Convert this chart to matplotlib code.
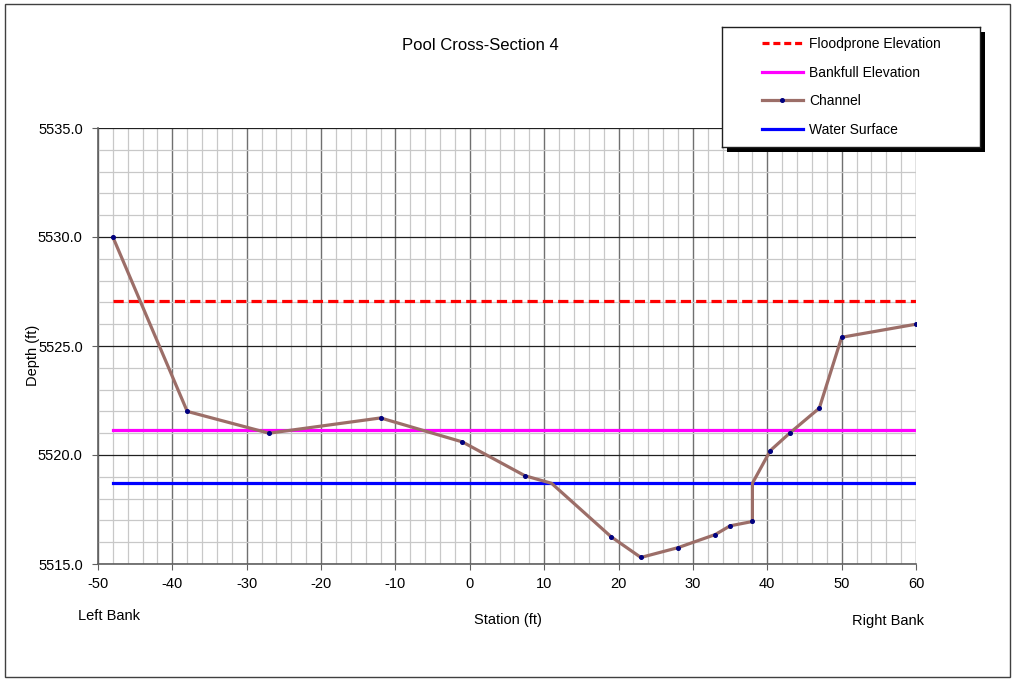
import matplotlib
matplotlib.use("Agg")
import matplotlib.pyplot as plt
from matplotlib.lines import Line2D
from matplotlib.patches import Rectangle
from matplotlib.ticker import MultipleLocator, FormatStrFormatter

plt.rcParams['font.family'] = ['Liberation Sans', 'DejaVu Sans']
plt.rcParams['axes.unicode_minus'] = False

# Surveyed channel profile
station = [-48, -38, -27, -12, -1, 7.4, 11, 19, 23, 28, 33, 35, 38, 38, 40.4, 43, 47, 50, 60]
elevation = [5530.0, 5522.0, 5521.0, 5521.7, 5520.6, 5519.05, 5518.7, 5516.25, 5515.3,
             5515.75, 5516.35, 5516.75, 5516.95, 5518.7, 5520.2, 5521.0, 5522.15, 5525.4, 5526.0]
marker_flags = [True] * len(station)
marker_flags[6] = False
marker_flags[13] = False

# Reference elevations across the section
extent = [-48, 60]
floodprone = 5527.05
bankfull = 5521.15
water_surface = 5518.7

W, H = 1015, 681
fig = plt.figure(figsize=(W / 100, H / 100), dpi=100)
fig.patch.set_facecolor('white')

# outer chart border
fig.add_artist(Rectangle((5 / W, 4 / H), 1005 / W, 673 / H, transform=fig.transFigure,
                         fill=False, edgecolor='#404040', linewidth=1.0))

ax = fig.add_axes([98 / W, 1 - 564 / H, 818 / W, 436 / H])
ax.set_xlim(-50, 60)
ax.set_ylim(5515, 5535)

ax.xaxis.set_major_locator(MultipleLocator(10))
ax.xaxis.set_minor_locator(MultipleLocator(2))
ax.yaxis.set_major_locator(MultipleLocator(5))
ax.yaxis.set_minor_locator(MultipleLocator(1))
ax.yaxis.set_major_formatter(FormatStrFormatter('%.1f'))

ax.grid(which='minor', color='#c8c8c8', linewidth=0.9)
ax.xaxis.grid(which='major', color='#707070', linewidth=1.0)
ax.yaxis.grid(which='major', color='#202020', linewidth=0.9)
ax.set_axisbelow(True)
for s in ['top', 'right']:
    ax.spines[s].set_visible(False)
for s in ['left', 'bottom']:
    ax.spines[s].set_color('#606060')
    ax.spines[s].set_linewidth(1.2)
ax.tick_params(which='major', length=4, color='#606060', labelsize=10.5, direction='out')
ax.tick_params(axis='y', pad=7)
ax.tick_params(axis='x', pad=5)
ax.tick_params(which='minor', length=0)

fp_line, = ax.plot(extent, [floodprone, floodprone], color='#ff0000', linewidth=2.3,
                   dashes=(3.2, 1.6))
bf_line, = ax.plot(extent, [bankfull, bankfull], color='#ff00ff', linewidth=2.3)
ch_line, = ax.plot(station, elevation, color='#9c6e68', linewidth=2.3, zorder=4)
ws_line, = ax.plot(extent, [water_surface, water_surface], color='#0000ff', linewidth=2.3, zorder=3)
mx = [s for s, f in zip(station, marker_flags) if f]
my = [e for e, f in zip(elevation, marker_flags) if f]
ax.plot(mx, my, linestyle='none', marker='o', markersize=2.6, color='#000080', zorder=5)

fig.text(480 / W, 1 - 45 / H, 'Pool Cross-Section 4', ha='center', va='center', fontsize=12)
fig.text(33 / W, 1 - 355 / H, 'Depth (ft)', ha='center', va='center', rotation=90, fontsize=10.5)
fig.text(109 / W, 1 - 616 / H, 'Left Bank', ha='center', va='center', fontsize=10.5)
fig.text(508 / W, 1 - 620 / H, 'Station (ft)', ha='center', va='center', fontsize=10.5)
fig.text(888 / W, 1 - 621 / H, 'Right Bank', ha='center', va='center', fontsize=10.5)

# legend box with drop shadow
lx, ly, lw, lh = 722, 27, 258, 120
fig.add_artist(Rectangle(((lx + 5) / W, 1 - (ly + lh + 5) / H), lw / W, lh / H,
                         transform=fig.transFigure, facecolor='black', edgecolor='none', zorder=8))
lax = fig.add_axes([lx / W, 1 - (ly + lh) / H, lw / W, lh / H], zorder=9)
lax.set_xticks([])
lax.set_yticks([])
for s in lax.spines.values():
    s.set_color('#202020')
    s.set_linewidth(1.0)
handles = [
    Line2D([], [], color='#ff0000', linewidth=2.3, dashes=(2.2, 1.2)),
    Line2D([], [], color='#ff00ff', linewidth=2.3),
    Line2D([], [], color='#9c6e68', linewidth=2.3, marker='o', markersize=2.6,
           markerfacecolor='#000080', markeredgecolor='#000080', markevery=[1]),
    Line2D([], [], color='#0000ff', linewidth=2.3),
]
labels = ['Floodprone Elevation', 'Bankfull Elevation', 'Channel', 'Water Surface']
lax.legend(handles, labels, loc='center left', bbox_to_anchor=(0.105, 0.5), frameon=False,
           fontsize=10, handlelength=3.0, handletextpad=0.4, labelspacing=1.05)

fig.savefig('out.png', dpi=100, facecolor='white')
